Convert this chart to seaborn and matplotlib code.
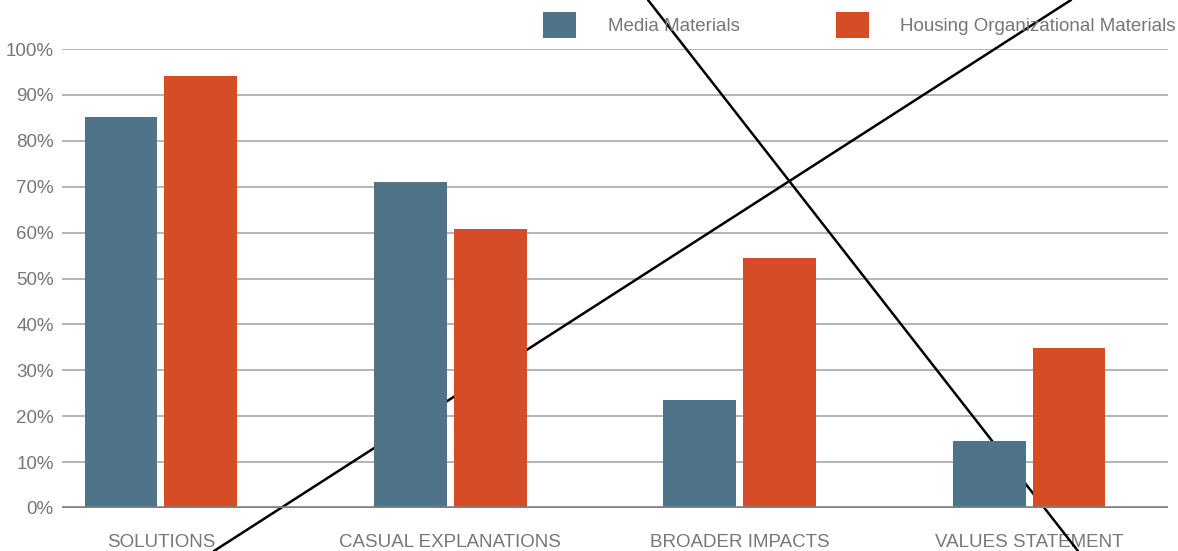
import matplotlib
matplotlib.use("Agg")
import matplotlib.pyplot as plt
from matplotlib.patches import Patch
from matplotlib.lines import Line2D
from matplotlib.ticker import FuncFormatter, MultipleLocator
import seaborn as sns
import pandas as pd

categories = ["SOLUTIONS", "CASUAL EXPLANATIONS", "BROADER IMPACTS", "VALUES STATEMENT"]
series_names = ["Media Materials", "Housing Organizational Materials"]
media_values = [85.2, 71.0, 23.5, 14.6]
housing_values = [94.2, 60.8, 54.5, 34.9]
colors = ["#4F7389", "#D64C26"]

# decorative cross lines over the image (figure pixel coords: x0, y0, x1, y1)
cross_lines = [(214, 551, 1071, 0), (648, 0, 1078, 551)]

df = pd.DataFrame({
    "category": categories * 2,
    "series": [series_names[0]] * 4 + [series_names[1]] * 4,
    "value": media_values + housing_values,
})

sns.set_theme(style="white")
plt.rcParams["font.family"] = ["Liberation Sans Narrow", "Liberation Sans", "DejaVu Sans"]

FS = 13.5
W, H = 1178, 551
fig = plt.figure(figsize=(W / 100, H / 100), dpi=100)
ax = fig.add_axes([62 / W, 1 - 508 / H, (1168 - 62) / W, (508 - 49) / H])

sns.barplot(data=df, x="category", y="value", hue="series", order=categories,
            hue_order=series_names, palette=colors, width=0.552, gap=0.088,
            saturation=1, ax=ax, legend=False, zorder=3, linewidth=0)

ax.set_xlim(-0.342, 3.480)
ax.set_ylim(0, 100)
ax.yaxis.set_major_locator(MultipleLocator(10))
ax.yaxis.set_major_formatter(FuncFormatter(lambda v, p: f"{int(round(v))}%"))
ax.set_axisbelow(True)
ax.grid(axis="y", color="#a8a8a8", linewidth=1.2, zorder=0)
ax.grid(axis="x", visible=False)
for s in ax.spines.values():
    s.set_visible(False)
ax.axhline(0, color="#7f7f7f", linewidth=2.6, zorder=4)

ax.set_xlabel("")
ax.set_ylabel("")
ax.tick_params(axis="x", length=0, pad=19, labelsize=FS, labelcolor="#777777")
ax.tick_params(axis="y", length=0, pad=6, labelsize=FS, labelcolor="#777777")

for (x0, y0, x1, y1) in cross_lines:
    ln = Line2D([x0 / W, x1 / W], [1 - y0 / H, 1 - y1 / H], transform=fig.transFigure,
                color="black", linewidth=1.8, zorder=2, clip_on=False)
    ax.add_artist(ln)

handles = [Patch(facecolor=c, edgecolor="none") for c in colors]
leg = fig.legend(handles, series_names, loc="center right",
                 bbox_to_anchor=(1176 / W, 1 - 25 / H), ncol=2, frameon=False,
                 fontsize=FS, handlelength=1.76, handleheight=1.76,
                 handletextpad=1.7, columnspacing=5.1, borderpad=0, borderaxespad=0)
for t in leg.get_texts():
    t.set_color("#777777")

fig.savefig("out.png", dpi=100)
